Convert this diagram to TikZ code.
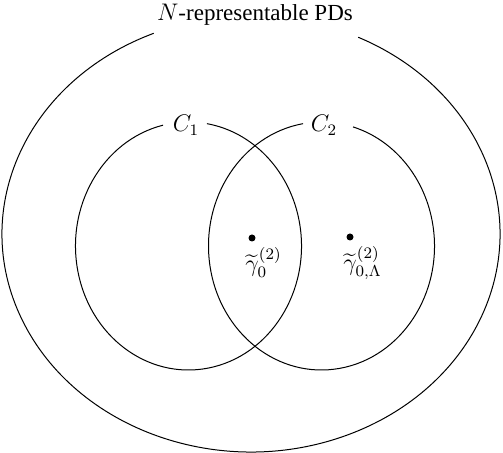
\documentclass[tikz,border=0pt]{standalone}
\usepackage{fontspec}
\setmainfont{Liberation Serif}
\usepackage{amsmath, amssymb}
\usetikzlibrary{positioning, calc}

\begin{document}
\begin{tikzpicture}[x=0.5pt, y=0.5pt,
        every node/.style={font=\fontsize{11.5}{13}\selectfont},
        set/.style={line width=0.5pt},
        lab/.style={inner sep=0pt, anchor=base},
        pt/.style={circle, fill, inner sep=0pt, minimum size=3.5pt}]
      \useasboundingbox (0,0) rectangle (503,453);
      \coordinate (outer) at (251,219);
      \coordinate (c1) at (188.5,207);
      \coordinate (c2) at (321.5,207);
      % the three sets, each with a gap for its label
      \draw[set] (outer) ++(113:249 and 218)
        arc[start angle=113, end angle=424.5, x radius=249, y radius=218];
      \draw[set] (c1) ++(103:113 and 124)
        arc[start angle=103, end angle=440.6, x radius=113, y radius=124];
      \draw[set] (c2) ++(99.4:113 and 124)
        arc[start angle=99.4, end angle=433.8, x radius=113, y radius=124];
      \node[lab] (title) at (255,432) {$N$-representable PDs};
      \node[lab] (c1lab) at (186,321) {$C_1$};
      \node[lab] (c2lab) at (324,321) {$C_2$};
      % minimisers
      \node[pt] (d1) at (252,215) {};
      \node[pt] (d2) at (350,216) {};
      \node[inner sep=0pt, anchor=north west] (g1) at ([shift={(-7,-5)}]d1.south)
        {$\widetilde{\gamma}^{(2)}_0$};
      \node[inner sep=0pt, anchor=north west] (g2) at ([shift={(-7,-5)}]d2.south)
        {$\widetilde{\gamma}^{(2)}_{0,\Lambda}$};
\end{tikzpicture}
\end{document}
